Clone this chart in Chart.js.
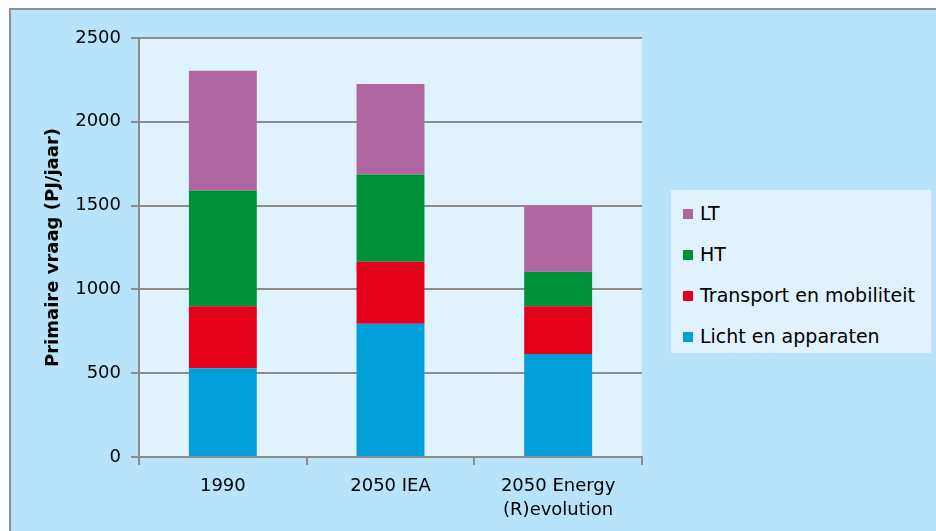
<!DOCTYPE html>
<html><head><meta charset="utf-8">
<script src="https://cdn.jsdelivr.net/npm/chart.js@4/dist/chart.umd.min.js"></script>
<style>
html,body{margin:0;padding:0;background:#fff;}
#wrap{position:relative;width:936px;height:531px;}
#legend{position:absolute;left:671px;top:190px;width:260px;height:163px;background:#e0f2fe;font-family:"DejaVu Sans",sans-serif;font-size:19px;color:#000;}
.li{position:absolute;left:12px;height:24px;line-height:24px;white-space:nowrap;}
.sw{display:inline-block;width:10px;height:10px;margin-right:7px;vertical-align:1px;}
</style></head>
<body><div id="wrap"><canvas id="c" width="936" height="531"></canvas><div id="legend"></div></div>
<script>
const categories = ["1990", "2050 IEA", ["2050 Energy", "(R)evolution"]];
const seriesNames = ["Licht en apparaten", "Transport en mobiliteit", "HT", "LT"];
const licht = [530, 795, 615];
const transport = [370, 370, 285];
const ht = [690, 520, 205];
const lt = [715, 540, 395];
const yTicks = [0, 500, 1000, 1500, 2000, 2500];
const colors = ["#009fda", "#e2001a", "#00913a", "#b066a0"];
const values = [licht, transport, ht, lt];

const bgPlugin = {
  id: 'bg',
  beforeDraw(chart) {
    const ctx = chart.ctx, a = chart.chartArea;
    ctx.save();
    ctx.fillStyle = '#ffffff';
    ctx.fillRect(0, 0, 936, 531);
    ctx.fillStyle = '#b9e3fb';
    ctx.fillRect(10, 9, 940, 540);
    ctx.strokeStyle = '#8e8e8e';
    ctx.lineWidth = 2;
    ctx.strokeRect(10, 9, 940, 540);
    ctx.fillStyle = '#e0f2fe';
    ctx.fillRect(a.left, a.top, a.right - a.left, a.bottom - a.top);
    ctx.restore();
  }
};

const datasets = seriesNames.map((n, i) => ({
  label: n, data: values[i], backgroundColor: colors[i],
  borderWidth: 0, barPercentage: 0.405, categoryPercentage: 1.0
}));

new Chart(document.getElementById('c'), {
  type: 'bar',
  data: { labels: categories, datasets },
  options: {
    responsive: false, animation: false, devicePixelRatio: 1,
    layout: { padding: { left: 43, top: 38, right: 294, bottom: 0 } },
    plugins: { legend: { display: false }, tooltip: { enabled: false } },
    scales: {
      x: {
        stacked: true,
        grid: { offset: true, drawOnChartArea: false, color: '#8c8c8c', lineWidth: 2, tickLength: 8 },
        border: { color: '#8c8c8c', width: 2 },
        ticks: { color: '#000', font: { family: 'DejaVu Sans', size: 18, lineHeight: 1.3 }, padding: 10, maxRotation: 0 },
        afterFit(s) { s.height = 74; }
      },
      y: {
        stacked: true, min: 0, max: 2500,
        afterBuildTicks(s) { s.ticks = yTicks.map(v => ({ value: v })); },
        grid: { color: '#8c8c8c', lineWidth: 2, tickLength: 8 },
        border: { color: '#8c8c8c', width: 2 },
        ticks: { color: '#000', font: { family: 'DejaVu Sans', size: 18 }, padding: 10, callback: v => String(v) },
        title: { display: true, text: 'Primaire vraag (PJ/jaar)', color: '#000', font: { family: 'DejaVu Sans', size: 18, weight: 'bold' }, padding: { top: 0, bottom: 0 } },
        afterFit(s) { s.width = 96; }
      }
    }
  },
  plugins: [bgPlugin]
});

const leg = document.getElementById('legend');
const order = [3, 2, 1, 0];
order.forEach((idx, k) => {
  const d = document.createElement('div');
  d.className = 'li';
  d.style.top = (11 + k * 41) + 'px';
  d.innerHTML = '<span class="sw" style="background:' + colors[idx] + '"></span>' + seriesNames[idx];
  leg.appendChild(d);
});
</script></body></html>
